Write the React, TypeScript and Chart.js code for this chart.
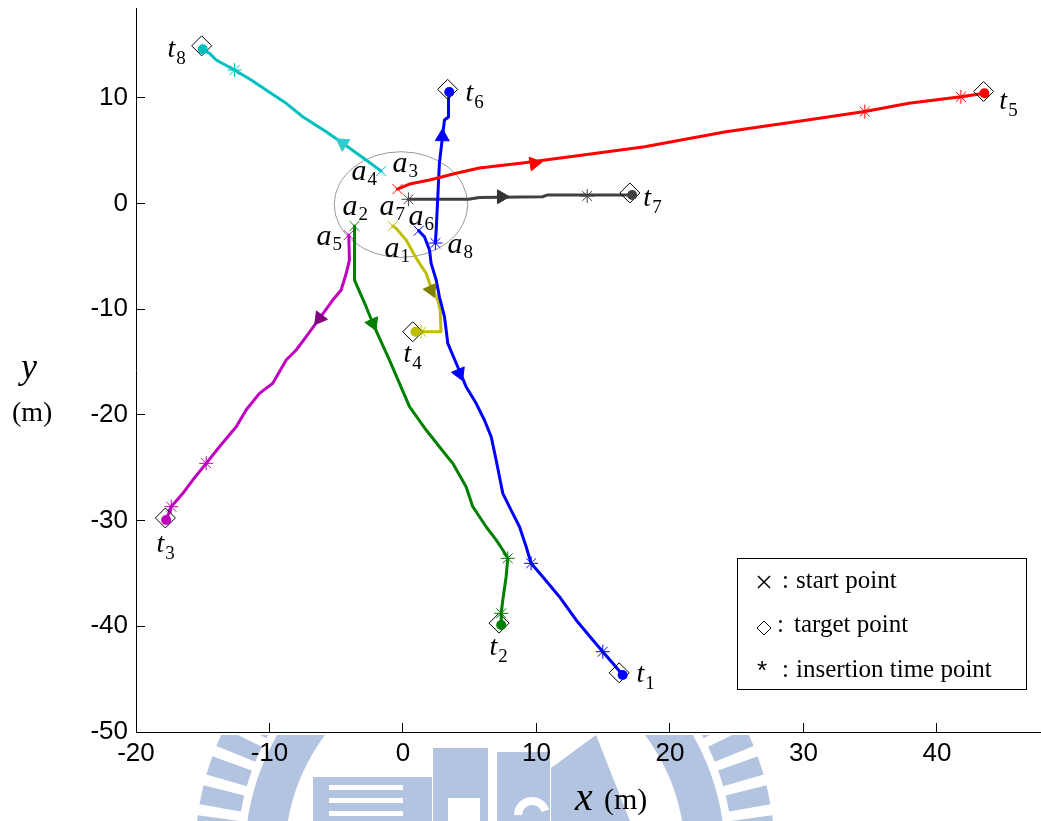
import React, { useEffect, useRef } from "react";
import { Chart, registerables } from "chart.js";

Chart.register(...registerables);

type Pt = [number, number];

// ---- axes ----
const X_MIN = -20;
const X_MAX = 47.8;
const Y_MIN = -50;
const Y_MAX = 18.5;
const TICK_STEP = 10;

// ---- trajectories (x, y in metres) ----
const pathA6: Pt[] = [
  [1.18, -2.57], [1.61, -3.14], [1.99, -4.4], [2.11, -5.66], [2.49, -7.24], [2.73, -8.82],
  [3.11, -10.71], [3.36, -13.23], [4.1, -15.44], [4.73, -17.33], [5.48, -18.9], [6.1, -20.48],
  [6.61, -22.06], [6.98, -24.27], [7.48, -27.42], [8.1, -29.0], [8.73, -30.58], [9.23, -32.47],
  [9.6, -34.04], [10.47, -35.31], [11.72, -37.2], [12.97, -39.4], [14.22, -41.3], [14.97, -42.4],
  [15.72, -43.5], [16.46, -44.6],
];
const pathA2: Pt[] = [
  [-3.63, -2.13], [-3.63, -7.24], [-2.76, -9.76], [-2.26, -11.33], [-1.01, -14.81], [-0.26, -17.01],
  [0.49, -19.22], [1.74, -21.43], [2.73, -23.01], [3.73, -24.58], [4.73, -26.79], [5.23, -28.68],
  [6.23, -30.58], [6.98, -31.83], [7.48, -32.78], [7.85, -33.57], [7.73, -35.31], [7.48, -37.51],
  [7.36, -38.77], [7.36, -39.88],
];
const pathA5: Pt[] = [
  [-4.06, -2.98], [-4.01, -5.35], [-4.25, -6.6], [-4.63, -8.18], [-5.26, -9.13], [-6.25, -10.86],
  [-7.25, -12.6], [-8.0, -13.86], [-8.75, -14.81], [-9.75, -17.01], [-10.75, -17.96], [-11.75, -19.54],
  [-12.49, -21.12], [-13.75, -23.01], [-14.74, -24.58], [-15.75, -26.16], [-16.49, -27.42],
  [-17.36, -28.68], [-17.74, -29.94],
];
const pathA7: Pt[] = [
  [-0.76, -2.13], [-0.51, -2.35], [0.24, -3.45], [0.86, -4.87], [1.24, -5.66], [1.74, -6.6],
  [1.99, -7.55], [2.61, -9.13], [2.79, -10.08], [2.85, -12.13], [1.36, -12.13], [0.94, -12.13],
];
const pathA3: Pt[] = [
  [-0.41, 1.37], [0.49, 1.84], [1.99, 2.22], [3.99, 2.86], [5.73, 3.36], [8.95, 3.83], [13.5, 4.59],
  [18.1, 5.37], [24.2, 6.8], [30.3, 7.9], [34.6, 8.7], [37.9, 9.48], [41.8, 10.1], [43.56, 10.43],
];
const pathA8: Pt[] = [
  [2.43, -3.74], [2.49, -2.51], [2.61, 0.64], [2.73, 3.8], [2.96, 6.32], [3.11, 7.9], [3.41, 8.18],
  [3.41, 9.8], [3.47, 10.55],
];
const pathA1: Pt[] = [
  [0.41, 0.4], [4.91, 0.4], [5.73, 0.57], [10.45, 0.64], [10.8, 0.8], [15.6, 0.8], [17.17, 0.8],
];
const pathA4: Pt[] = [
  [-1.63, 3.07], [-2.76, 4.12], [-4.51, 5.7], [-5.75, 6.79], [-7.51, 8.21], [-8.75, 9.48],
  [-10.25, 10.74], [-11.37, 11.69], [-12.62, 12.63], [-13.99, 13.58], [-14.49, 14.21], [-15.0, 14.59],
];

// ---- insertion time points ----
const starsA6: Pt[] = [[9.6, -34.04], [14.97, -42.4]];
const starsA2: Pt[] = [[7.85, -33.57], [7.36, -38.77]];
const starsA5: Pt[] = [[-14.74, -24.58], [-17.36, -28.68]];
const starsA7: Pt[] = [[1.36, -12.13]];
const starsA3: Pt[] = [[34.6, 8.7], [41.8, 10.1]];
const starsA8: Pt[] = [[2.43, -3.74]];
const starsA1: Pt[] = [[0.41, 0.4], [13.8, 0.71]];
const starsA4: Pt[] = [[-12.62, 12.63]];

// ---- targets t1..t8 ----
const targets: Pt[] = [
  [16.2, -44.4], [7.2, -39.7], [-17.8, -29.75], [0.73, -12.13],
  [43.5, 10.6], [3.35, 10.8], [17.0, 1.0], [-15.08, 14.92],
];

// ---- direction arrow positions and headings (deg) ----
const arrowA6: Pt = [4.23, -16.06];
const arrowA2: Pt = [-2.26, -11.33];
const arrowA5: Pt = [-6.25, -10.86];
const arrowA7: Pt = [2.11, -8.18];
const arrowA3: Pt = [9.83, 3.8];
const arrowA8: Pt = [2.95, 6.32];
const arrowA1: Pt = [7.38, 0.64];
const arrowA4: Pt = [-4.51, 5.7];
const arrowHeadings = [157, 156, 217, 156, 81, 1, 90, -56];

// ---- labels ----
const targetLabelNames = ["1", "2", "3", "4", "5", "6", "7", "8"];
const targetLabelPos: Pt[] = [
  [17.49, -45.27], [6.48, -42.72], [-18.46, -32.97], [0.04, -15.0],
  [44.68, 8.94], [4.68, 9.7], [18.01, -0.24], [-17.64, 13.86],
];
const agentLabelNames = ["1", "2", "3", "4", "5", "6", "7", "8"];
const agentLabelPos: Pt[] = [
  [-1.39, -5.06], [-4.53, -1.09], [-0.79, 2.98], [-3.86, 2.22],
  [-6.48, -3.93], [0.41, -2.03], [-1.76, -1.09], [3.33, -4.68],
];
const circleCenter: Pt = [-0.15, -0.1];
const circleRadius = 5;

const legendItems = ["start point", "target point", "insertion time point"];

const C = {
  blue: "#0000ff",
  green: "#008000",
  red: "#ff0000",
  cyan: "#00bfbf",
  magenta: "#bf00bf",
  yellow: "#bfbf00",
  gray: "#404040",
};

const tracks = [
  { path: pathA6, stars: starsA6, arrow: arrowA6, color: C.blue, arrowColor: C.blue, startX: true },
  { path: pathA2, stars: starsA2, arrow: arrowA2, color: C.green, arrowColor: C.green, startX: true },
  { path: pathA5, stars: starsA5, arrow: arrowA5, color: C.magenta, arrowColor: "#800080", startX: true },
  { path: pathA7, stars: starsA7, arrow: arrowA7, color: C.yellow, arrowColor: "#808000", startX: true },
  { path: pathA3, stars: starsA3, arrow: arrowA3, color: C.red, arrowColor: C.red, startX: true },
  { path: pathA8, stars: starsA8, arrow: arrowA8, color: C.blue, arrowColor: C.blue, startX: false },
  { path: pathA1, stars: starsA1, arrow: arrowA1, color: C.gray, arrowColor: "#333333", startX: false },
  { path: pathA4, stars: starsA4, arrow: arrowA4, color: C.cyan, arrowColor: "#33cccc", startX: true },
];

const SERIF = '"Liberation Serif", "Times New Roman", serif';
const SANS = '"Liberation Sans", Arial, sans-serif';
const WM = "#b3c4e0";

const toXY = (pts: Pt[]) => pts.map(([x, y]) => ({ x, y }));

function drawWatermark(ctx: CanvasRenderingContext2D) {
  ctx.save();
  ctx.beginPath();
  ctx.rect(0, 735, 1041, 100);
  ctx.clip();
  ctx.fillStyle = WM;
  const cx = 485, cy = 855;
  ctx.beginPath();
  ctx.arc(cx, cy, 240, 0, Math.PI * 2);
  ctx.arc(cx, cy, 200, 0, Math.PI * 2, true);
  ctx.fill("evenodd");
  for (let a = -180; a <= 0; a += 6) {
    const r1 = 248, r2 = 290, h = (1.9 * Math.PI) / 180;
    const t = (a * Math.PI) / 180;
    ctx.beginPath();
    ctx.moveTo(cx + r1 * Math.cos(t - h), cy + r1 * Math.sin(t - h));
    ctx.lineTo(cx + r2 * Math.cos(t - h), cy + r2 * Math.sin(t - h));
    ctx.lineTo(cx + r2 * Math.cos(t + h), cy + r2 * Math.sin(t + h));
    ctx.lineTo(cx + r1 * Math.cos(t + h), cy + r1 * Math.sin(t + h));
    ctx.closePath();
    ctx.fill();
  }
  ctx.fillRect(313, 777, 119, 50);
  ctx.fillRect(433, 748, 55, 80);
  ctx.fillRect(497, 752, 53, 80);
  ctx.beginPath();
  ctx.moveTo(551, 768);
  ctx.lineTo(596, 735);
  ctx.lineTo(630, 821);
  ctx.lineTo(551, 821);
  ctx.closePath();
  ctx.fill();
  ctx.fillStyle = "#ffffff";
  ctx.fillRect(329, 785, 74, 5);
  ctx.fillRect(329, 798, 74, 5);
  ctx.fillRect(329, 811, 74, 5);
  ctx.fillRect(448, 798, 32, 30);
  ctx.strokeStyle = "#ffffff";
  ctx.lineWidth = 8;
  ctx.beginPath();
  ctx.arc(532, 815, 14, Math.PI, Math.PI * 1.9);
  ctx.stroke();
  ctx.restore();
}

function drawSub(
  ctx: CanvasRenderingContext2D,
  x: number,
  y: number,
  main: string,
  sub: string,
  mainSize: number,
  subSize: number,
  dy: number
) {
  ctx.font = `italic ${mainSize}px ${SERIF}`;
  ctx.fillText(main, x, y);
  const w = ctx.measureText(main).width;
  ctx.font = `${subSize}px ${SERIF}`;
  ctx.fillText(sub, x + w + 1, y + dy);
}

const overlayPlugin = {
  id: "overlay",
  beforeDraw(chart: any) {
    drawWatermark(chart.ctx);
  },
  beforeDatasetsDraw(chart: any) {
    const ctx = chart.ctx as CanvasRenderingContext2D;
    const xs = chart.scales.x, ys = chart.scales.y;
    const cx = xs.getPixelForValue(circleCenter[0]);
    const cy = ys.getPixelForValue(circleCenter[1]);
    const rx = Math.abs(xs.getPixelForValue(circleCenter[0] + circleRadius) - cx);
    const ry = Math.abs(ys.getPixelForValue(circleCenter[1] + circleRadius) - cy);
    ctx.save();
    ctx.strokeStyle = "#9a9a9a";
    ctx.lineWidth = 1;
    ctx.beginPath();
    ctx.ellipse(cx, cy, rx, ry, 0, 0, Math.PI * 2);
    ctx.stroke();
    ctx.restore();
  },
  afterDraw(chart: any) {
    const ctx = chart.ctx as CanvasRenderingContext2D;
    const xs = chart.scales.x, ys = chart.scales.y;
    ctx.save();
    ctx.fillStyle = "#000";
    ctx.textAlign = "left";
    ctx.textBaseline = "alphabetic";
    targetLabelPos.forEach(([x, y], i) => {
      drawSub(ctx, xs.getPixelForValue(x), ys.getPixelForValue(y), "t", targetLabelNames[i], 28, 19, 7);
    });
    agentLabelPos.forEach(([x, y], i) => {
      drawSub(ctx, xs.getPixelForValue(x), ys.getPixelForValue(y), "a", agentLabelNames[i], 30, 19, 5);
    });

    // axis titles
    ctx.font = `italic 36px ${SERIF}`;
    ctx.fillText("y", 21, 378);
    ctx.font = `28px ${SERIF}`;
    ctx.fillText("(m)", 12, 421);
    ctx.font = `italic 40px ${SERIF}`;
    ctx.fillText("x", 575, 810);
    ctx.font = `30px ${SERIF}`;
    ctx.fillText("(m)", 604, 809);

    // legend box
    ctx.fillStyle = "#fff";
    ctx.fillRect(737.5, 558.5, 289, 131);
    ctx.strokeStyle = "#000";
    ctx.lineWidth = 1;
    ctx.strokeRect(737.5, 558.5, 289, 131);
    ctx.fillStyle = "#000";
    ctx.lineWidth = 1.5;
    ctx.beginPath();
    ctx.moveTo(758, 576);
    ctx.lineTo(770, 588);
    ctx.moveTo(770, 576);
    ctx.lineTo(758, 588);
    ctx.stroke();
    ctx.lineWidth = 1;
    ctx.beginPath();
    ctx.moveTo(764, 621);
    ctx.lineTo(771, 628);
    ctx.lineTo(764, 635);
    ctx.lineTo(757, 628);
    ctx.closePath();
    ctx.stroke();
    ctx.font = `26px ${SANS}`;
    ctx.fillText("*", 757, 679);
    ctx.font = `25px ${SERIF}`;
    ctx.fillText(":", 782, 588);
    ctx.fillText(":", 777, 632);
    ctx.fillText(":", 782, 677);
    ctx.fillText(legendItems[0], 796, 588);
    ctx.fillText(legendItems[1], 794, 632);
    ctx.fillText(legendItems[2], 796, 677);
    ctx.restore();
  },
};

export default function App() {
  const ref = useRef<HTMLCanvasElement | null>(null);

  useEffect(() => {
    if (!ref.current) return;
    const datasets: any[] = [];
    tracks.forEach((t, i) => {
      datasets.push({
        data: toXY(t.path),
        showLine: true,
        borderColor: t.color,
        borderWidth: 3,
        borderJoinStyle: "round",
        borderCapStyle: "round",
        pointRadius: 0,
        fill: false,
        order: 50,
      });
      datasets.push({
        data: toXY([t.arrow]),
        showLine: false,
        pointStyle: "triangle",
        pointRotation: arrowHeadings[i],
        pointRadius: 8,
        pointBackgroundColor: t.arrowColor,
        pointBorderColor: t.arrowColor,
        pointBorderWidth: 1,
        order: 40,
      });
      if (t.startX) {
        datasets.push({
          data: toXY([t.path[0]]),
          showLine: false,
          pointStyle: "crossRot",
          pointRadius: 7,
          pointBorderColor: t.color,
          pointBorderWidth: 1,
          order: 10,
        });
      }
      datasets.push({
        data: toXY(t.stars),
        showLine: false,
        pointStyle: "star",
        pointRadius: 7,
        pointBorderColor: t.color,
        pointBorderWidth: 1,
        order: 10,
      });
      datasets.push({
        data: toXY([t.path[t.path.length - 1]]),
        showLine: false,
        pointStyle: "circle",
        pointRadius: 5,
        pointBackgroundColor: t.color,
        pointBorderColor: t.color,
        pointBorderWidth: 0,
        order: 20,
      });
    });
    datasets.push({
      data: toXY(targets),
      showLine: false,
      pointStyle: "rectRot",
      pointRadius: 10,
      pointBackgroundColor: "rgba(0,0,0,0)",
      pointBorderColor: "#000",
      pointBorderWidth: 1,
      order: 30,
    });

    const chart = new Chart(ref.current, {
      type: "scatter",
      data: { datasets },
      options: {
        responsive: false,
        devicePixelRatio: 1,
        animation: false,
        events: [],
        layout: { autoPadding: false, padding: { top: 8, left: 0, right: 0, bottom: 0 } },
        plugins: { legend: { display: false }, tooltip: { enabled: false } },
        scales: {
          x: {
            type: "linear",
            position: "bottom",
            min: X_MIN,
            max: X_MAX,
            ticks: {
              stepSize: TICK_STEP,
              includeBounds: false,
              color: "#000",
              font: { family: SANS, size: 26 },
              padding: 15,
              maxRotation: 0,
              autoSkip: false,
            },
            grid: { drawOnChartArea: false, drawTicks: true, tickLength: -9, color: "#000", lineWidth: 1 },
            border: { display: true, color: "#000", width: 1 },
            afterFit: (s: any) => {
              s.height = 89;
              s.paddingLeft = 0;
              s.paddingRight = 0;
            },
          },
          y: {
            type: "linear",
            position: "left",
            min: Y_MIN,
            max: Y_MAX,
            ticks: {
              stepSize: TICK_STEP,
              includeBounds: false,
              color: "#000",
              font: { family: SANS, size: 26 },
              padding: 17,
              autoSkip: false,
            },
            grid: { drawOnChartArea: false, drawTicks: true, tickLength: -9, color: "#000", lineWidth: 1 },
            border: { display: true, color: "#000", width: 1 },
            afterFit: (s: any) => {
              s.width = 136;
              s.paddingTop = 0;
              s.paddingBottom = 0;
            },
          },
        },
      } as any,
      plugins: [overlayPlugin],
    });
    return () => chart.destroy();
  }, []);

  return (
    <div style={{ position: "absolute", left: 0, top: 0, width: 1041, height: 821, background: "#fff" }}>
      <canvas ref={ref} width={1041} height={821} style={{ display: "block", width: 1041, height: 821 }} />
    </div>
  );
}
